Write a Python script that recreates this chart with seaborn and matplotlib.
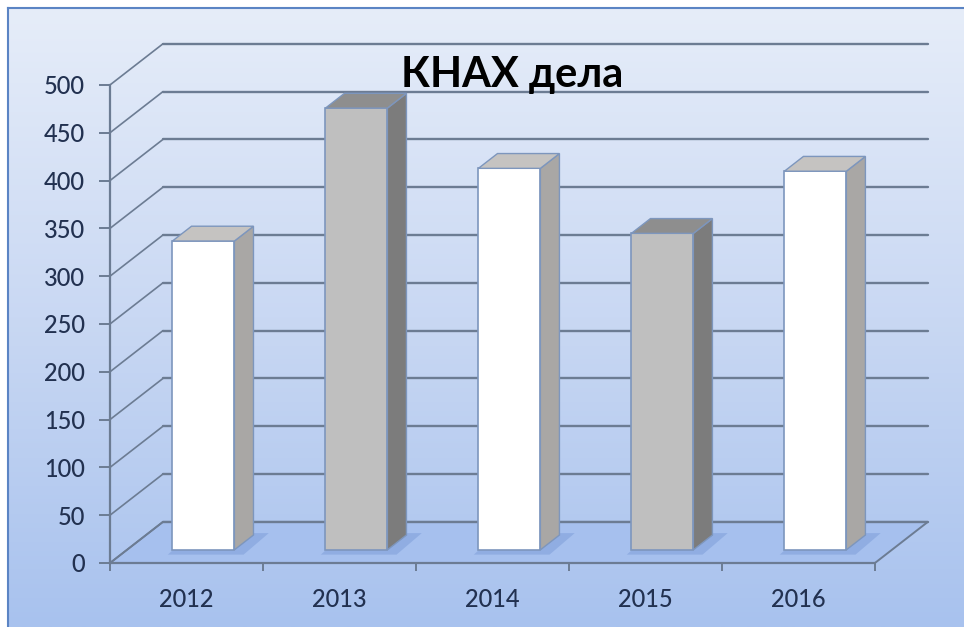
import numpy as np
import pandas as pd
import matplotlib.pyplot as plt
from matplotlib.patches import Polygon
from matplotlib.colors import LinearSegmentedColormap
import seaborn as sns

# data
years = ["2012", "2013", "2014", "2015", "2016"]
cases = [323, 462, 399, 331, 396]
bar_colors = ["#ffffff", "#bfbfbf", "#ffffff", "#bfbfbf", "#ffffff"]
y_ticks = [0, 50, 100, 150, 200, 250, 300, 350, 400, 450, 500]
title = "КНАХ дела"

sns.set_style("white")
plt.rcParams["font.family"] = ["Lato", "DejaVu Sans"]

# fake 3D geometry (depth vector in data units)
DX, DY = 0.346, 43.0
F0, F1 = 0.32, 0.68
GRID = "#6c7c93"
TEXT = "#223150"
shade = {"#ffffff": ("#a9a7a5", "#c5c3c1"), "#bfbfbf": ("#7c7c7c", "#8e8e8e")}

fig = plt.figure(figsize=(9.64, 6.27), dpi=100)

# gradient chart area with border
bg = fig.add_axes([8 / 964, 0, 956 / 964, 619 / 627])
grad = np.linspace(0, 1, 256).reshape(-1, 1)
cmap = LinearSegmentedColormap.from_list("bg", ["#e6edf9", "#c9d8f3", "#a8c2ee"])
bg.imshow(grad, aspect="auto", cmap=cmap, extent=[0, 1, 0, 1], origin="upper")
bg.set_xticks([])
bg.set_yticks([])
for side in ["right", "bottom"]:
    bg.spines[side].set_visible(False)
for side in ["top", "left"]:
    bg.spines[side].set_color("#5b84c4")
    bg.spines[side].set_linewidth(1.5)

ax = fig.add_axes([110 / 964, 64 / 627, 820 / 964, 523 / 627])
ax.set_facecolor("none")

df = pd.DataFrame({"year": years, "cases": cases})
sns.barplot(data=df, x="year", y="cases", hue="year", palette=bar_colors,
            legend=False, width=0.405, saturation=1, edgecolor="#7d96bd",
            linewidth=1.2, ax=ax, zorder=4)
bars = sorted(ax.patches, key=lambda p: p.get_x())

ax.set_xlim(-0.5, 4.86)
ax.set_ylim(0, 547)

# floor
floor = Polygon([(-0.5, 0), (4.5, 0), (4.5 + DX, DY), (-0.5 + DX, DY)],
                closed=True, facecolor="#a6c0ee", edgecolor=GRID, lw=1.4, zorder=1)
ax.add_patch(floor)

# back wall gridlines and side wall diagonals
for v in y_ticks:
    ax.plot([-0.5 + DX, 4.5 + DX], [v + DY, v + DY], color=GRID, lw=1.7, zorder=1)
    ax.plot([-0.5, -0.5 + DX], [v, v + DY], color=GRID, lw=1.2, zorder=1)

# bars: push front face back into the floor, add side and top faces
bx, by = (F1 - F0) * DX, (F1 - F0) * DY
for p, col in zip(bars, bar_colors):
    p.set_x(p.get_x() + F0 * DX)
    p.set_y(F0 * DY)
    x0, y0, w, h = p.get_x(), p.get_y(), p.get_width(), p.get_height()
    side_c, top_c = shade[col]
    shadow = Polygon([(x0 - 0.03, y0 - 5), (x0 + w + 0.06, y0 - 5),
                      (x0 + w + bx + 0.1, y0 + by + 2), (x0 + bx, y0 + by + 2)],
                     closed=True, facecolor="#6f92d2", alpha=0.4, lw=0, zorder=2)
    side = Polygon([(x0 + w, y0), (x0 + w + bx, y0 + by),
                    (x0 + w + bx, y0 + h + by), (x0 + w, y0 + h)],
                   closed=True, facecolor=side_c, edgecolor="#7d96bd", lw=1.0, zorder=4)
    top = Polygon([(x0, y0 + h), (x0 + bx, y0 + h + by),
                   (x0 + w + bx, y0 + h + by), (x0 + w, y0 + h)],
                  closed=True, facecolor=top_c, edgecolor="#7d96bd", lw=1.0, zorder=4)
    ax.add_patch(shadow)
    ax.add_patch(side)
    ax.add_patch(top)

# front axes
for s in ["top", "right"]:
    ax.spines[s].set_visible(False)
ax.spines["left"].set_bounds(0, 500)
ax.spines["bottom"].set_bounds(-0.5, 4.5)
for s in ["left", "bottom"]:
    ax.spines[s].set_color(GRID)
    ax.spines[s].set_linewidth(1.6)
    ax.spines[s].set_zorder(5)

ax.set_yticks(y_ticks)
ax.set_xticks(range(len(years)))
ax.set_xticklabels(years)
ax.set_xticks(np.arange(-0.5, 5, 1), minor=True)
ax.tick_params(axis="y", length=8, width=1.4, color=GRID, pad=10,
               labelsize=17, labelcolor=TEXT, left=True)
ax.tick_params(axis="x", which="major", length=0, pad=18,
               labelsize=17, labelcolor=TEXT)
ax.tick_params(axis="x", which="minor", length=6, width=1.4, color=GRID,
               direction="out", bottom=True)
for lbl in ax.get_xticklabels() + ax.get_yticklabels():
    lbl.set_fontweight("medium")
ax.set_xlabel("")
ax.set_ylabel("")

fig.text(512 / 964, 1 - 75 / 627, title, ha="center", va="center",
         fontsize=30, fontweight="bold", color="#000000")

fig.savefig("out.png", dpi=100)
